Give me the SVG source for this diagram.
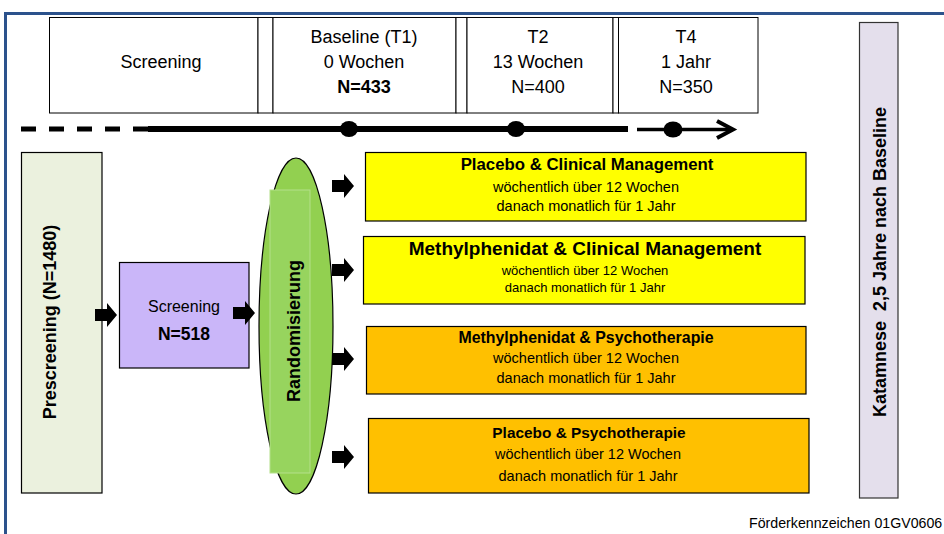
<svg xmlns="http://www.w3.org/2000/svg" width="944" height="534" viewBox="0 0 944 534">
<style>
text{font-family:"Liberation Sans",Arial,sans-serif;fill:#000}
.hb{fill:#fff;stroke:#000;stroke-width:1}
.c{text-anchor:middle}
.b{font-weight:bold}
.t18{font-size:18px}
.sub{font-size:14.5px}
.box{stroke:#000;stroke-width:1.2}
</style>
<defs>
<path id="barrow" d="M0,-6 H12 V-12 L22,0 L12,12 V6 H0 Z"/>
</defs>
<rect width="944" height="534" fill="#fff"/>
<path d="M5.5,534 V13.5 H944" fill="none" stroke="#2C528C" stroke-width="3"/>

<g id="header">
<rect class="hb" x="49.5" y="17.5" width="208.5" height="95.5"/>
<rect class="hb" x="258" y="17.5" width="15" height="95.5"/>
<rect class="hb" x="273" y="17.5" width="183" height="95.5"/>
<rect class="hb" x="456" y="17.5" width="11" height="95.5"/>
<rect class="hb" x="467" y="17.5" width="146" height="95.5"/>
<rect class="hb" x="613" y="17.5" width="5.5" height="95.5"/>
<rect class="hb" x="618.5" y="17.5" width="139.5" height="95.5"/>
<text class="c t18" x="161" y="68">Screening</text>
<text class="c t18" x="364" y="43">Baseline (T1)</text>
<text class="c t18" x="364" y="68">0 Wochen</text>
<text class="c t18 b" x="364" y="93">N=433</text>
<text class="c t18" x="538" y="43">T2</text>
<text class="c t18" x="538" y="68">13 Wochen</text>
<text class="c t18" x="538" y="93">N=400</text>
<text class="c t18" x="686" y="43">T4</text>
<text class="c t18" x="686" y="68">1 Jahr</text>
<text class="c t18" x="686" y="93">N=350</text>
</g>

<g id="timeline">
<line x1="21" y1="129" x2="148" y2="129" stroke="#000" stroke-width="5" stroke-dasharray="15 13"/>
<line x1="148" y1="129" x2="628" y2="129" stroke="#000" stroke-width="6"/>
<ellipse cx="349" cy="129" rx="9" ry="8"/>
<ellipse cx="516" cy="129" rx="9" ry="8"/>
<line x1="637" y1="129.5" x2="732" y2="129.5" stroke="#000" stroke-width="3.5"/>
<ellipse cx="673" cy="129.5" rx="9.5" ry="8"/>
<polyline points="717,121 733,129.5 717,138" fill="none" stroke="#000" stroke-width="4"/>
</g>

<g id="prescreening">
<rect class="box" x="21.5" y="152.5" width="80.5" height="340.5" fill="#EBF1DE"/>
<text class="c t18 b" transform="translate(56,322) rotate(-90)">Prescreening (N=1480)</text>
</g>

<g id="screening">
<rect class="box" x="119.5" y="262.5" width="129.5" height="105.5" fill="#CAB6F9"/>
<text class="c" x="184" y="312" font-size="16">Screening</text>
<text class="c b" x="184" y="340" font-size="17.5">N=518</text>
</g>

<g id="randomisierung">
<ellipse cx="296" cy="326" rx="37" ry="168" fill="#92D050" stroke="#000" stroke-width="1.2"/>
<rect x="270" y="190" width="40" height="283" fill="#97D45E" stroke="#B4E08A" stroke-width="1"/>
<text class="c t18 b" transform="translate(300,331) rotate(-90)">Randomisierung</text>
</g>

<g id="arm1">
<rect class="box" x="365.5" y="152.5" width="440.5" height="68.5" fill="#FFFF00"/>
<text class="c b" x="587" y="170" font-size="16.8">Placebo &amp; Clinical Management</text>
<text class="c sub" x="586" y="192">wöchentlich über 12 Wochen</text>
<text class="c sub" x="586" y="211">danach monatlich für 1 Jahr</text>
</g>

<g id="arm2">
<rect class="box" x="363.5" y="236.5" width="441.5" height="67.5" fill="#FFFF00"/>
<text class="c b" x="585" y="255" font-size="19">Methylphenidat &amp; Clinical Management</text>
<text class="c" x="585" y="275" font-size="13">wöchentlich über 12 Wochen</text>
<text class="c" x="585" y="292" font-size="13">danach monatlich für 1 Jahr</text>
</g>

<g id="arm3">
<rect class="box" x="366.5" y="326.5" width="439.5" height="67.5" fill="#FFC000"/>
<text class="c b" x="586" y="343" font-size="15.9">Methylphenidat &amp; Psychotherapie</text>
<text class="c sub" x="586" y="363">wöchentlich über 12 Wochen</text>
<text class="c sub" x="586" y="383">danach monatlich für 1 Jahr</text>
</g>

<g id="arm4">
<rect class="box" x="368.5" y="418.5" width="440.5" height="74.5" fill="#FFC000"/>
<text class="c b" x="589" y="438" font-size="15.4">Placebo &amp; Psychotherapie</text>
<text class="c sub" x="588" y="459">wöchentlich über 12 Wochen</text>
<text class="c sub" x="588" y="481">danach monatlich für 1 Jahr</text>
</g>

<g id="katamnese">
<rect x="859.5" y="22.5" width="38.5" height="475.5" fill="#E4DFEC" stroke="#333" stroke-width="1.2"/>
<text class="c t18 b" transform="translate(886,262) rotate(-90)" xml:space="preserve">Katamnese  2,5 Jahre nach Baseline</text>
</g>

<g id="connectors">
<use href="#barrow" x="95" y="315"/>
<use href="#barrow" x="233" y="313"/>
<use href="#barrow" x="332" y="186"/>
<use href="#barrow" x="332" y="270"/>
<use href="#barrow" x="332" y="359"/>
<use href="#barrow" x="332" y="457"/>
</g>

<text x="749" y="528" font-size="14.2">Förderkennzeichen 01GV0606</text>
</svg>
